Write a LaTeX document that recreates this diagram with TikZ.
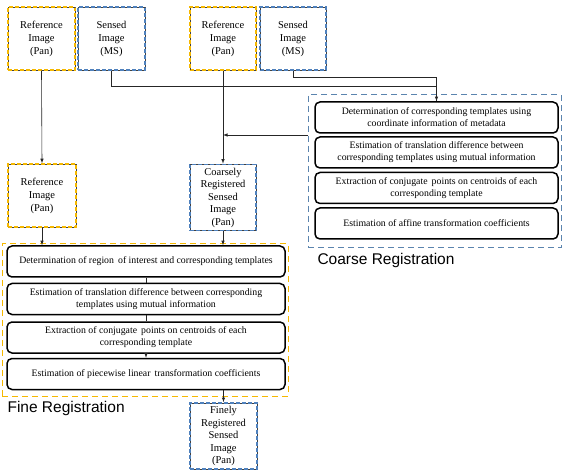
\documentclass[tikz,border=0pt]{standalone}
\usepackage{fontspec}
\setmainfont{Liberation Serif}
\newfontfamily\regfont{Liberation Sans}
\usepackage{tikz}
\usetikzlibrary{arrows}
\tikzset{>=latex}
\definecolor{panyellow}{HTML}{F5B800}
\definecolor{msblue}{HTML}{4F81BD}
\definecolor{grpblue}{HTML}{5B84AE}
\tikzstyle{refimg} = [draw=panyellow, fill=white, line width=1.4pt, dash pattern=on 4pt off 2pt, minimum width=67, minimum height=63, align=center, font=\fontsize{10.5}{13}\selectfont, postaction={draw=black!75, line width=.55pt, dash pattern=on 2pt off 4pt, dash phase=-4pt}]
\tikzstyle{senimg} = [refimg, draw=msblue]
\tikzstyle{stepbox} = [draw=black, fill=white, line width=1.5pt, rounded corners=5pt, minimum height=31, align=center, font=\fontsize{9.8}{12}\selectfont]
\tikzstyle{arrow} = [line width=.6pt, black!85, ->]
\tikzstyle{link} = [line width=.6pt, black!85]

\begin{document}
\begin{tikzpicture}[x=1pt, y=-1pt]
    \useasboundingbox (0,0) rectangle (562,470);
    % group frames
    \node[draw=grpblue, line width=1pt, dash pattern=on 6pt off 4pt, minimum width=253, minimum height=153] (coarse) at (434.5,171.5) {};
    \node[draw=panyellow, line width=1pt, dash pattern=on 6pt off 4pt, minimum width=286, minimum height=152] (fine) at (145,320) {};
    \node[anchor=west, font=\regfont\fontsize{15.5}{18}\selectfont] (coarselbl) at (314,260) {Coarse Registration};
    \node[anchor=west, font=\regfont\fontsize{15.5}{18}\selectfont] (finelbl) at (4,408) {Fine Registration};

    % input images
    \node[refimg] (refA) at (41.5,38.5) {Reference\\Image\\(Pan)};
    \node[senimg] (senB) at (111.5,38.5) {Sensed\\Image\\(MS)};
    \node[refimg, minimum width=66] (refC) at (223,38.5) {Reference\\Image\\(Pan)};
    \node[senimg, minimum width=66] (senD) at (293,38.5) {Sensed\\Image\\(MS)};
    \node[refimg, minimum width=68] (refE) at (42,195.5) {Reference\\Image\\(Pan)};
    \node[senimg, minimum width=66, font=\fontsize{10.5}{12.5}\selectfont] (crsF) at (223,197.5) {Coarsely\\Registered\\Sensed\\Image\\(Pan)};
    \node[senimg, minimum height=64, font=\fontsize{10.5}{12.5}\selectfont] (finG) at (223.5,436) {Finely\\Registered\\Sensed\\Image\\(Pan)};

    % coarse registration steps
    \node[stepbox, minimum width=243] (c1) at (436.5,117.5) {Determination of corresponding templates using\\coordinate information of metadata};
    \node[stepbox, minimum width=243] (c2) at (436.5,152.5) {Estimation of translation difference between\\corresponding templates using mutual information};
    \node[stepbox, minimum width=243] (c3) at (436.5,188) {Extraction of conjugate\, points on centroids of each\\corresponding template};
    \node[stepbox, minimum width=243] (c4) at (436.5,223.5) {Estimation of affine transformation coefficients};

    % fine registration steps
    \node[stepbox, minimum width=278] (f1) at (146,261.5) {Determination of region\, of interest and corresponding templates};
    \node[stepbox, minimum width=278] (f2) at (146,299) {Estimation of translation difference between corresponding\\templates using mutual information};
    \node[stepbox, minimum width=278] (f3) at (146,337.5) {Extraction of conjugate\, points on centroids of each\\corresponding template};
    \node[stepbox, minimum width=278] (f4) at (146,374) {Estimation of piecewise linear\, transformation coefficients};

    \coordinate (jB) at (111.5,86);
    \coordinate (jD) at (293,77);
    \coordinate (jC) at (223,135);

    \draw[arrow] (refA.south) -- (refE.north);
    \draw[arrow] (senB.south) -- (jB) -| (c1.north);
    \draw[link] (senD.south) -- (jD) -| (c1.north);
    \draw[arrow] (refC.south) -- (crsF.north);
    \draw[arrow] (coarse.west |- jC) -- (jC);
    \draw[arrow] (refE.south) -- (refE.south |- f1.north);
    \draw[arrow] (crsF.south) -- (crsF.south |- f1.north);
    \draw[link] (f1.south) -- (f2.north);
    \draw[link] (f2.south) -- (f3.north);
    \draw[arrow] (f3.south) -- (f4.north);
    \draw[arrow] (f4.south -| finG.north) -- (finG.north);
\end{tikzpicture}
\end{document}
